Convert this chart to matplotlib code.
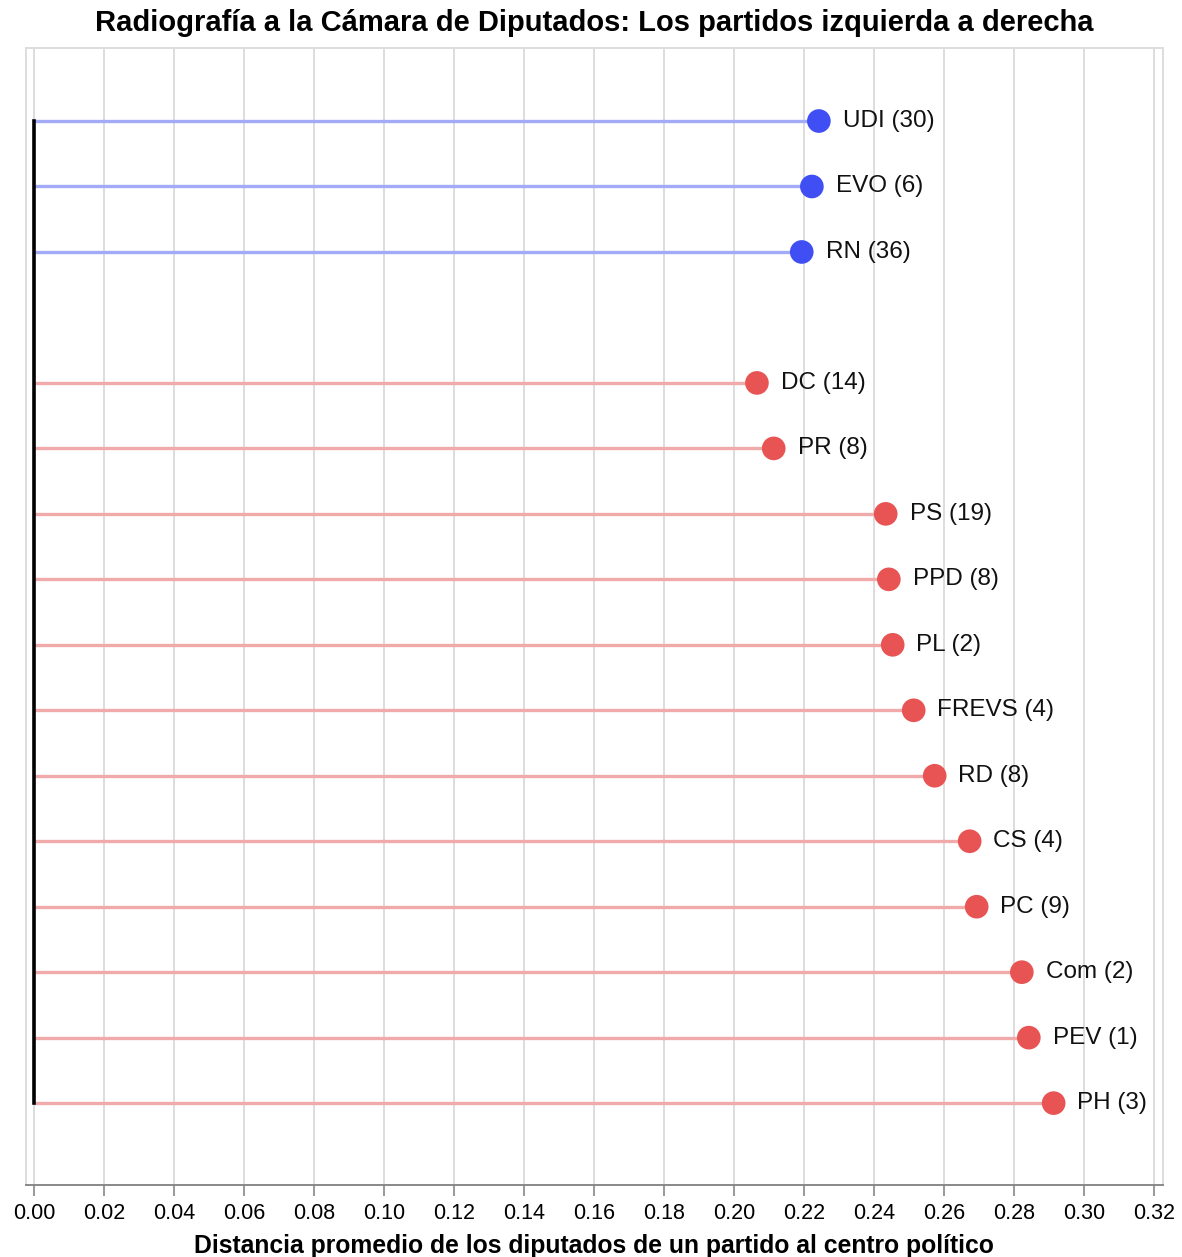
import matplotlib
matplotlib.use("Agg")
import matplotlib.pyplot as plt

# Data
parties = ["UDI", "EVO", "RN", "DC", "PR", "PS", "PPD", "PL", "FREVS",
           "RD", "CS", "PC", "Com", "PEV", "PH"]
members = [30, 6, 36, 14, 8, 19, 8, 2, 4, 8, 4, 9, 2, 1, 3]
distance = [0.2243, 0.2223, 0.2194, 0.2066, 0.2114, 0.2434, 0.2443, 0.2454,
            0.2514, 0.2574, 0.2674, 0.2694, 0.2823, 0.2843, 0.2914]
side = ["derecha"] * 3 + ["izquierda"] * 12
rows = [0, 1, 2, 4, 5, 6, 7, 8, 9, 10, 11, 12, 13, 14, 15]
xticks = [i / 100 for i in range(0, 33, 2)]

plt.rcParams['font.family'] = ['Liberation Sans', 'DejaVu Sans']

dot_col = {"derecha": "#3f4ff4", "izquierda": "#e85454"}
line_col = {"derecha": "#a3abf7", "izquierda": "#f0aaaa"}

fig = plt.figure(figsize=(11.82, 12.57), dpi=100)
ax = fig.add_axes([0.022, 0.0573, 0.9617, 0.9045])

# stems
for r, d, s in zip(rows, distance, side):
    ax.plot([0, d], [r, r], color=line_col[s], linewidth=2.4, zorder=2,
            solid_capstyle='butt')

# black baseline
ax.plot([0, 0], [min(rows), max(rows)], color='black', linewidth=2.6, zorder=3)

# dots
ax.scatter(distance, rows, s=290, c=[dot_col[s] for s in side], zorder=4,
           linewidths=0)

# labels
for r, d, p, m in zip(rows, distance, parties, members):
    ax.text(d + 0.0068, r, f"{p} ({m})", ha='left', va='center',
            fontsize=17.5, color='#111111', zorder=5)

ax.set_xlim(-0.00229, 0.32257)
ax.set_ylim(16.25, -1.115)
ax.set_yticks([])
ax.set_xticks(xticks)
ax.set_xticklabels([f"{t:.2f}" for t in xticks], fontsize=15.5)
ax.tick_params(axis='x', length=8, width=1.2, color='#888888', pad=5)
ax.grid(axis='x', color='#dddddd', linewidth=1.4, zorder=0)
ax.set_axisbelow(True)

for sp in ax.spines.values():
    sp.set_color('#dddddd')
    sp.set_linewidth(1.4)
ax.spines['bottom'].set_color('#888888')

ax.set_xlabel("Distancia promedio de los diputados de un partido al centro político",
              fontsize=17.8, fontweight='bold', labelpad=7)
ax.set_title("Radiografía a la Cámara de Diputados: Los partidos izquierda a derecha",
             fontsize=21, fontweight='bold', pad=12)

fig.savefig("out.png", dpi=100)
